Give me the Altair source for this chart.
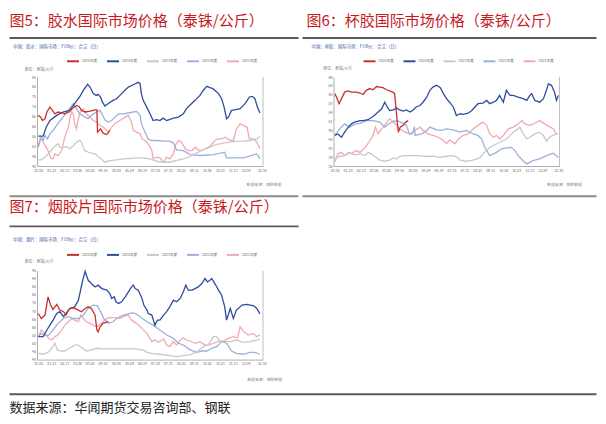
import json
import altair as alt
import pandas as pd

FONT = "Noto Sans CJK SC"

SERIES = ["2025年度", "2024年度", "2023年度", "2022年度", "2021年度"]
COLORS = ["#C9302C", "#2E4D9B", "#C9C9C9", "#9DB0DC", "#F2A9B2"]

TICK_DAYS = [2, 23, 44, 65, 85, 106, 128, 149, 170, 191, 212, 233, 254, 275, 296, 317, 338, 364]
TICK_LABELS = ["01-02", "01-23", "02-13", "03-06", "03-26", "04-16", "05-08", "05-29", "06-19",
               "07-10", "07-31", "08-21", "09-11", "10-02", "10-23", "11-13", "12-04", "12-30"]

TITLES = ["图5：胶水国际市场价格（泰铢/公斤）", "图6：杯胶国际市场价格（泰铢/公斤）", "图7：烟胶片国际市场价格（泰铢/公斤）"]
SUBTITLES = ["中国：胶水：国际市场：FOB价：合艾（日）", "中国：杯胶：国际市场：FOB价：合艾（日）", "中国：烟片：国际市场：FOB价：合艾（日）"]
UNIT = "单位：泰铢/公斤"
SOURCE = "数据来源：钢联数据"
FOOTER = "数据来源：华闻期货交易咨询部、钢联"

Y5_TICKS = [40, 45, 50, 55, 60, 65, 70, 75, 80, 85]
Y6_TICKS = [36, 39, 42, 45, 48, 51, 54, 57, 60, 63, 66]
Y7_TICKS = [40, 45, 50, 55, 60, 65, 70, 75, 80, 85, 90, 95]

# ---------- 图5 胶水 ----------
c5_2025_d = [2, 6, 9, 13, 16, 21, 25, 29, 34, 40, 45, 52, 59, 64, 68, 72, 78, 86, 94, 97, 98, 103, 107, 113, 118]
c5_2025_v = [65.6, 64.7, 63.0, 63.9, 67.3, 69.8, 68.1, 66.4, 67.3, 66.8, 66.4, 67.3, 69.5, 70.6, 70.1, 68.1, 67.3, 67.8, 68.4, 68.4, 57.1, 58.8, 56.6, 55.9, 58.0]
c5_2024_d = [2, 10, 15, 21, 32, 42, 53, 61, 69, 75, 82, 86, 91, 96, 99, 103, 106, 110, 115, 123, 129, 137, 142, 148, 159, 164, 167, 169, 172, 175, 178, 183, 188, 194, 199, 204, 210, 221, 229, 237, 242, 250, 256, 264, 269, 275, 280, 285, 294, 299, 303, 307, 310, 315, 320, 329, 337, 344, 349, 353, 357, 361]
c5_2024_v = [55.1, 55.1, 59.7, 63.0, 65.6, 67.3, 68.1, 71.5, 74.9, 78.2, 81.3, 79.9, 76.6, 75.7, 76.2, 74.9, 72.3, 70.3, 71.5, 73.2, 74.0, 76.6, 78.2, 79.9, 81.6, 82.3, 81.6, 76.6, 73.2, 71.5, 69.5, 66.4, 63.0, 63.4, 63.0, 64.2, 63.0, 64.2, 64.7, 66.4, 69.0, 71.5, 73.2, 75.7, 78.2, 80.3, 79.6, 79.1, 76.6, 74.0, 69.8, 63.9, 64.7, 68.1, 68.4, 69.0, 71.5, 74.9, 75.2, 74.0, 69.8, 66.8]
c5_2023_d = [2, 7, 13, 18, 24, 29, 34, 37, 42, 48, 53, 59, 64, 69, 72, 77, 83, 88, 94, 99, 104, 110, 115, 121, 129, 140, 150, 161, 172, 183, 194, 204, 215, 226, 237, 248, 258, 269, 280, 291, 302, 312, 323, 334, 345, 356, 361]
c5_2023_v = [43.1, 43.1, 44.5, 46.1, 48.2, 49.9, 51.2, 49.5, 49.2, 49.9, 48.7, 50.4, 52.1, 52.9, 52.1, 47.8, 47.0, 46.5, 46.1, 44.8, 43.6, 41.9, 42.4, 42.8, 43.1, 43.6, 43.8, 44.1, 44.1, 43.6, 42.4, 41.9, 41.9, 42.8, 43.6, 44.8, 46.5, 48.2, 49.5, 50.9, 51.6, 52.1, 52.4, 52.6, 52.9, 53.7, 54.9]
c5_2022_d = [2, 5, 7, 10, 13, 17, 21, 26, 34, 42, 51, 59, 64, 69, 78, 83, 88, 96, 102, 105, 110, 115, 121, 126, 132, 140, 148, 156, 161, 167, 169, 175, 180, 186, 194, 205, 215, 221, 226, 237, 248, 264, 286, 304, 307, 334, 356, 361]
c5_2022_v = [49.5, 52.9, 54.6, 52.9, 55.4, 53.7, 56.3, 58.0, 61.4, 64.7, 68.4, 71.5, 69.0, 66.4, 64.7, 63.9, 65.6, 67.3, 68.1, 66.4, 63.4, 62.2, 63.0, 64.7, 66.4, 66.4, 66.8, 67.3, 67.6, 65.6, 61.4, 57.1, 53.7, 52.9, 52.9, 52.6, 52.6, 51.6, 48.2, 47.8, 45.8, 45.3, 45.8, 47.0, 44.1, 44.1, 46.1, 43.6]
c5_2021_d = [2, 5, 9, 13, 18, 22, 26, 29, 34, 40, 45, 51, 53, 56, 59, 61, 64, 67, 70, 75, 80, 86, 91, 97, 102, 107, 113, 116, 121, 126, 134, 143, 148, 153, 156, 161, 167, 170, 175, 180, 186, 188, 194, 199, 205, 210, 215, 221, 224, 229, 234, 240, 245, 251, 256, 261, 267, 272, 278, 283, 288, 294, 299, 305, 313, 318, 323, 329, 334, 340, 344, 351, 356, 361]
c5_2021_v = [49.5, 53.7, 52.9, 50.4, 47.8, 44.1, 43.6, 46.1, 45.3, 47.8, 54.6, 59.7, 63.9, 67.3, 66.4, 61.4, 58.8, 63.9, 67.3, 69.0, 66.4, 64.7, 63.0, 62.2, 60.5, 59.7, 58.0, 57.1, 59.7, 61.4, 63.0, 64.7, 65.6, 62.2, 58.0, 57.1, 56.3, 53.7, 52.9, 51.2, 47.8, 43.6, 44.5, 44.1, 41.9, 44.5, 43.6, 46.1, 50.4, 52.9, 52.1, 48.7, 47.8, 47.8, 49.5, 48.2, 47.8, 48.7, 49.5, 50.9, 52.9, 53.7, 53.7, 54.6, 52.9, 52.9, 58.8, 61.4, 60.5, 59.7, 53.7, 53.7, 52.1, 48.7]

# ---------- 图6 杯胶 ----------
c6_2025_d = [2, 5, 9, 13, 18, 24, 29, 37, 43, 48, 53, 59, 64, 70, 75, 80, 86, 91, 96, 99, 101, 103, 105, 108, 113, 117, 121]
c6_2025_v = [60.4, 59.2, 57.0, 58.7, 60.9, 61.3, 60.9, 60.9, 60.6, 60.1, 61.5, 62.1, 61.7, 62.8, 62.6, 62.4, 61.7, 61.3, 60.9, 60.4, 55.9, 51.3, 47.4, 49.1, 49.7, 50.8, 51.3]
c6_2024_d = [2, 7, 13, 18, 24, 29, 34, 43, 48, 56, 64, 70, 78, 83, 87, 91, 97, 102, 107, 113, 118, 124, 129, 134, 140, 145, 151, 156, 161, 167, 170, 173, 178, 183, 188, 194, 197, 199, 205, 210, 218, 224, 229, 234, 242, 248, 253, 259, 264, 269, 275, 280, 286, 291, 299, 307, 313, 318, 321, 326, 334, 340, 344, 348, 353, 358, 361, 364]
c6_2024_v = [46.3, 46.8, 45.7, 47.4, 49.1, 50.2, 50.8, 51.3, 51.3, 51.6, 52.7, 53.8, 55.3, 57.5, 55.9, 54.7, 54.9, 55.6, 54.9, 54.5, 54.9, 54.2, 54.9, 55.9, 56.4, 57.5, 59.2, 61.5, 62.6, 63.2, 62.8, 62.4, 60.4, 58.7, 57.5, 55.9, 54.2, 53.0, 53.6, 53.4, 53.8, 54.7, 55.9, 57.0, 57.2, 58.1, 57.0, 57.5, 58.1, 59.8, 57.5, 61.5, 59.8, 59.8, 59.2, 58.7, 58.1, 59.8, 60.4, 58.1, 57.5, 58.7, 61.0, 63.7, 63.2, 60.9, 58.1, 59.8]
c6_2023_d = [2, 10, 18, 26, 34, 43, 51, 56, 61, 70, 75, 83, 91, 97, 102, 107, 113, 121, 129, 140, 151, 161, 172, 180, 191, 199, 205, 215, 226, 237, 242, 248, 253, 259, 269, 280, 291, 299, 302, 307, 313, 318, 326, 334, 340, 345, 351, 361]
c6_2023_v = [38.7, 39.2, 39.5, 40.3, 39.8, 40.1, 39.5, 40.6, 40.1, 38.7, 38.0, 37.6, 38.0, 38.7, 38.4, 39.2, 39.5, 39.5, 39.5, 39.5, 39.2, 39.3, 38.9, 39.2, 39.5, 39.2, 38.0, 37.6, 38.0, 38.7, 40.1, 41.2, 42.3, 42.9, 44.0, 45.1, 47.4, 48.5, 49.1, 46.8, 45.1, 45.7, 46.8, 47.4, 46.3, 44.3, 45.9, 46.8]
c6_2022_d = [2, 10, 18, 26, 34, 43, 53, 64, 75, 83, 88, 97, 105, 113, 118, 123, 128, 131, 132, 143, 151, 156, 167, 175, 183, 194, 205, 215, 226, 234, 240, 245, 253, 259, 264, 272, 280, 288, 294, 299, 307, 313, 323, 334, 345, 356, 364]
c6_2022_v = [46.3, 48.5, 50.2, 49.1, 50.0, 50.4, 51.3, 51.3, 50.8, 49.1, 50.0, 51.1, 51.1, 50.4, 49.7, 46.8, 46.8, 49.3, 46.3, 46.8, 48.0, 49.1, 48.2, 48.0, 48.5, 48.2, 47.4, 48.0, 46.8, 46.3, 45.1, 42.3, 39.5, 40.1, 40.6, 41.8, 42.1, 42.3, 41.2, 39.5, 37.8, 36.7, 37.8, 38.4, 39.5, 40.3, 38.9]
c6_2021_d = [2, 7, 13, 18, 24, 29, 37, 43, 51, 59, 64, 68, 72, 78, 83, 88, 91, 97, 102, 107, 116, 124, 132, 140, 145, 153, 161, 170, 178, 183, 188, 197, 202, 210, 218, 226, 234, 242, 248, 253, 259, 264, 269, 275, 283, 291, 299, 305, 310, 318, 326, 334, 342, 351, 356, 361, 364]
c6_2021_v = [37.3, 40.1, 40.6, 39.5, 40.6, 40.3, 41.2, 40.6, 42.1, 44.6, 46.3, 49.1, 46.8, 48.5, 49.7, 51.3, 51.9, 50.8, 49.7, 48.5, 47.4, 46.8, 48.0, 49.1, 48.0, 46.8, 46.3, 45.7, 44.6, 43.5, 44.8, 43.5, 45.1, 46.3, 46.8, 48.5, 49.7, 50.8, 49.7, 46.8, 45.7, 46.3, 45.1, 46.3, 48.5, 49.1, 50.2, 51.3, 50.2, 49.7, 50.4, 51.3, 50.2, 49.1, 48.5, 46.8, 46.8]

# ---------- 图7 烟胶片 ----------
c7_2025_d = [2, 7, 13, 17, 18, 22, 26, 32, 37, 43, 47, 51, 56, 61, 67, 72, 78, 83, 88, 94, 97, 99, 102, 107, 116]
c7_2025_v = [68.5, 65.4, 67.5, 76.7, 78.8, 73.7, 71.0, 74.1, 70.6, 69.6, 67.5, 70.6, 72.0, 71.6, 70.6, 69.6, 71.6, 72.6, 71.6, 67.5, 58.3, 57.2, 60.3, 62.4, 63.4]
c7_2024_d = [2, 10, 16, 21, 26, 32, 37, 43, 47, 53, 61, 67, 70, 74, 78, 80, 83, 88, 94, 99, 105, 113, 118, 121, 125, 128, 132, 137, 143, 148, 152, 156, 159, 164, 170, 173, 178, 180, 186, 191, 195, 199, 205, 210, 215, 221, 226, 232, 237, 241, 245, 251, 256, 261, 267, 272, 276, 280, 283, 288, 294, 299, 304, 307, 313, 318, 323, 332, 340, 351, 356, 361]
c7_2024_v = [54.2, 54.2, 58.3, 61.3, 64.4, 68.5, 69.6, 66.5, 68.5, 71.6, 72.6, 76.7, 81.9, 89.0, 94.6, 92.1, 89.0, 87.0, 84.9, 86.0, 83.9, 82.9, 80.8, 77.8, 78.8, 75.7, 74.7, 75.7, 78.8, 81.9, 84.3, 86.0, 83.9, 82.9, 77.8, 73.7, 70.6, 68.5, 67.5, 61.3, 64.4, 64.4, 67.5, 69.6, 72.6, 76.7, 75.7, 77.8, 81.9, 86.0, 82.9, 82.9, 83.9, 84.9, 87.0, 90.1, 88.0, 89.0, 90.1, 87.0, 82.9, 79.8, 72.6, 64.4, 71.6, 65.4, 70.6, 73.7, 74.1, 73.2, 71.6, 68.3]
c7_2023_d = [2, 10, 18, 24, 29, 33, 40, 45, 53, 61, 67, 72, 80, 88, 97, 105, 116, 129, 145, 161, 167, 172, 178, 186, 199, 215, 226, 237, 248, 259, 269, 278, 286, 291, 296, 305, 313, 323, 334, 345, 356, 361]
c7_2023_v = [43.9, 43.3, 44.5, 47.0, 50.1, 46.0, 45.3, 45.3, 47.0, 49.0, 49.0, 47.4, 45.3, 46.0, 47.0, 46.6, 46.6, 46.6, 46.6, 46.6, 46.0, 46.0, 44.5, 43.9, 43.3, 42.5, 41.8, 42.5, 42.9, 44.9, 48.0, 49.4, 54.2, 54.2, 51.5, 51.1, 51.1, 52.1, 50.7, 51.1, 52.1, 52.7]
c7_2022_d = [2, 7, 13, 18, 26, 34, 43, 51, 59, 67, 75, 83, 91, 98, 103, 108, 116, 123, 129, 137, 145, 153, 159, 167, 178, 188, 199, 210, 221, 229, 237, 248, 259, 267, 275, 283, 291, 299, 307, 315, 323, 334, 345, 353, 361]
c7_2022_v = [54.2, 56.2, 55.2, 54.8, 58.3, 62.4, 65.4, 66.5, 65.4, 65.4, 67.5, 71.6, 73.7, 73.2, 69.6, 65.4, 62.4, 63.4, 65.4, 67.1, 67.9, 68.9, 68.5, 66.5, 63.4, 61.3, 58.3, 55.2, 53.1, 50.1, 49.0, 46.0, 44.5, 45.3, 45.3, 47.0, 48.0, 51.1, 50.1, 45.3, 43.9, 43.3, 44.5, 44.5, 43.3]
c7_2021_d = [2, 7, 13, 18, 24, 29, 34, 40, 45, 51, 56, 61, 67, 71, 75, 80, 86, 91, 97, 102, 107, 113, 118, 126, 134, 143, 148, 153, 161, 170, 178, 186, 191, 197, 205, 210, 215, 221, 226, 232, 237, 242, 248, 256, 264, 272, 278, 286, 294, 302, 310, 318, 325, 329, 335, 342, 350, 356, 361]
c7_2021_v = [54.2, 58.3, 56.2, 53.5, 52.1, 54.2, 55.2, 58.3, 61.3, 63.4, 65.4, 64.4, 63.4, 67.5, 65.4, 63.4, 62.4, 61.3, 60.3, 61.8, 63.4, 65.4, 65.9, 65.9, 65.4, 67.1, 67.5, 64.4, 62.4, 59.3, 56.2, 51.1, 52.1, 50.7, 52.7, 49.0, 48.0, 51.1, 49.0, 52.1, 53.5, 52.1, 51.5, 50.1, 51.1, 49.0, 49.0, 50.1, 51.1, 51.5, 53.1, 54.2, 53.5, 60.3, 57.2, 55.2, 56.2, 54.2, 55.2]

W, H = 226, 89
X_DOMAIN = [0, 366]
LABEL_EXPR = "%s[indexof(%s, datum.value)]" % (json.dumps(TICK_LABELS), json.dumps(TICK_DAYS))


def long_df(series_lists):
    rows = []
    # draw order: 2021 first (bottom) ... 2025 last (top)
    for name, days, vals in reversed(series_lists):
        for d, v in zip(days, vals):
            rows.append({"series": name, "day": d, "val": v})
    return pd.DataFrame(rows)


one = pd.DataFrame({"k": [0]})


def txt(s, x, y, size, color, align="left", baseline="top"):
    return alt.Chart(one).mark_text(
        text=s, align=align, baseline=baseline, fontSize=size, color=color, font=FONT
    ).encode(x=alt.value(x), y=alt.value(y))


def rule(x1, x2, y1, y2, color, w, opacity=1):
    return alt.Chart(one).mark_rule(color=color, strokeWidth=w, opacity=opacity).encode(
        x=alt.value(x1), x2=alt.value(x2), y=alt.value(y1), y2=alt.value(y2)
    )


def panel(df, ydom, yticks, decor):
    lines = alt.Chart(df).mark_line(strokeWidth=1.3).encode(
        x=alt.X("day:Q", scale=alt.Scale(domain=X_DOMAIN, nice=False, zero=False),
                axis=alt.Axis(values=TICK_DAYS, labelExpr=LABEL_EXPR, title=None, grid=False,
                              ticks=False, domainColor="#9a9a9a", domainWidth=0.8,
                              labelFontSize=3.4, labelColor="#666", labelFont=FONT,
                              labelPadding=2, labelOverlap=False, labelFlush=False,
                              labelBound=False)),
        y=alt.Y("val:Q", scale=alt.Scale(domain=ydom, nice=False, zero=False),
                axis=alt.Axis(values=yticks, title=None, grid=False, ticks=False,
                              domainColor="#9a9a9a", domainWidth=0.8, labelFontSize=3.6,
                              labelColor="#666", labelFont=FONT, labelPadding=1.5,
                              labelOverlap=False, labelFlush=False)),
        color=alt.Color("series:N", scale=alt.Scale(domain=SERIES, range=COLORS),
                        legend=alt.Legend(title=None, orient="none", legendX=29, legendY=-22.7,
                                          direction="horizontal", columns=5,
                                          symbolType="stroke", symbolSize=144,
                                          symbolStrokeWidth=2, labelFontSize=3.6,
                                          labelFont=FONT, labelColor="#666", labelOffset=2,
                                          columnPadding=5, padding=0, rowPadding=0)),
    )
    right = rule(W, W, 0, H, "#b0b0b0", 0.8)
    return alt.layer(lines, right, *decor).properties(width=W, height=H)


df5 = long_df([("2025年度", c5_2025_d, c5_2025_v), ("2024年度", c5_2024_d, c5_2024_v),
               ("2023年度", c5_2023_d, c5_2023_v), ("2022年度", c5_2022_d, c5_2022_v),
               ("2021年度", c5_2021_d, c5_2021_v)])
df6 = long_df([("2025年度", c6_2025_d, c6_2025_v), ("2024年度", c6_2024_d, c6_2024_v),
               ("2023年度", c6_2023_d, c6_2023_v), ("2022年度", c6_2022_d, c6_2022_v),
               ("2021年度", c6_2021_d, c6_2021_v)])
df7 = long_df([("2025年度", c7_2025_d, c7_2025_v), ("2024年度", c7_2024_d, c7_2024_v),
               ("2023年度", c7_2023_d, c7_2023_v), ("2022年度", c7_2022_d, c7_2022_v),
               ("2021年度", c7_2021_d, c7_2021_v)])

RED = "#C8191E"
BLUE_T = "#3B5AA6"

decor5 = [
    # invisible anchor fixing the top-left corner of the whole layout
    rule(-27.5, -26.5, -68.7, -68.7, "#ffffff", 1, opacity=0),
    txt(TITLES[0], -27.5, -63.2, 15, RED),
    rule(-27.5, 261.5, -39, -39, "#5a5a5a", 1.8),
    txt(SUBTITLES[0], -24, -30.2, 4.4, BLUE_T, baseline="middle"),
    txt(UNIT, -12.5, -7.4, 4, "#777", baseline="middle"),
    txt(SOURCE, 209.5, 108.3, 3.9, "#888", baseline="middle"),
    rule(-27.5, 261.5, 119.3, 119.3, "#8a8a8a", 2),
]
decor6 = [
    txt(TITLES[1], -27, -63.2, 15, RED),
    rule(-31, 263, -39, -39, "#5a5a5a", 1.8),
    txt(SUBTITLES[1], -22, -30.5, 4.4, BLUE_T, baseline="middle"),
    txt(UNIT, -10.5, -7.7, 4, "#777", baseline="middle"),
    txt(SOURCE, 213.5, 108.3, 3.9, "#888", baseline="middle"),
    rule(-31, 263, 119.3, 119.3, "#8a8a8a", 2),
]
decor7 = [
    txt(TITLES[2], -27.5, -70.6, 15, RED),
    rule(-27.5, 261.5, -44.3, -44.3, "#5a5a5a", 1.8),
    txt(SUBTITLES[2], -24, -31, 4.4, BLUE_T, baseline="middle"),
    txt(UNIT, -12.5, -8.6, 4, "#777", baseline="middle"),
    txt(SOURCE, 210.2, 109.7, 3.9, "#888", baseline="middle"),
    rule(-27.5, 559.5, 123.7, 123.7, "#5a5a5a", 2),
    txt(FOOTER, -27.5, 131.2, 13, "#222"),
]

p5 = panel(df5, [40, 85], Y5_TICKS, decor5)
p6 = panel(df6, [36, 66], Y6_TICKS, decor6)
p7 = panel(df7, [40, 95], Y7_TICKS, decor7)

chart = alt.concat(
    p5, p6, p7, columns=2, spacing={"row": 104.6, "column": 70.5}, bounds="flush"
).resolve_scale(color="independent").resolve_legend(color="independent").properties(
    padding=0
).configure_view(stroke=None)

chart.save("out.html", embed_options={"renderer": "svg", "actions": False})
